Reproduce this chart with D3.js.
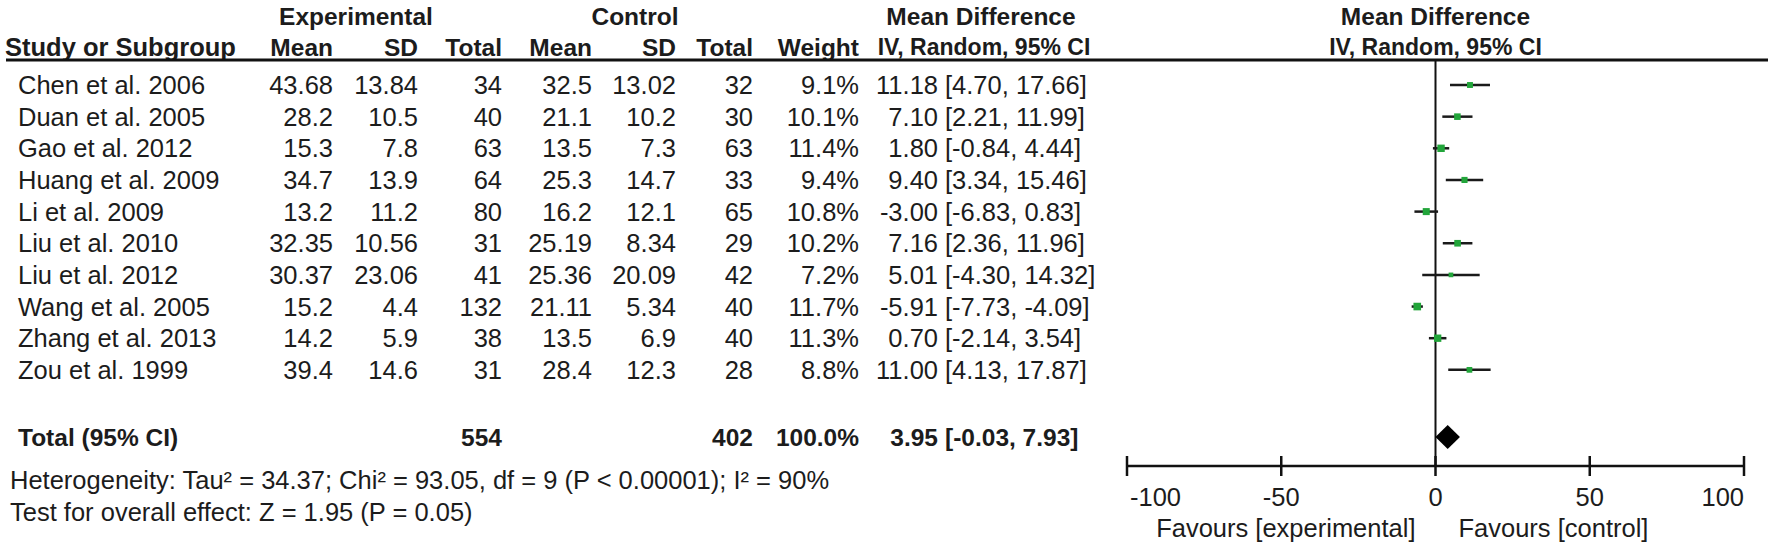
<!DOCTYPE html>
<html>
<head>
<meta charset="utf-8">
<script src="https://cdn.jsdelivr.net/npm/d3@7"></script>
<style>
  html, body { margin: 0; padding: 0; background: #fff; }
  svg { display: block; }
  text { font-family: "Liberation Sans", Arial, sans-serif; fill: #1c1c1c; }
</style>
</head>
<body>
<svg id="chart" width="1772" height="546"></svg>
<script>
// ---------- data ----------
const studies = ["Chen et al. 2006","Duan et al. 2005","Gao et al. 2012","Huang et al. 2009","Li et al. 2009",
                 "Liu et al. 2010","Liu et al. 2012","Wang et al. 2005","Zhang et al. 2013","Zou et al. 1999"];
const expMean  = ["43.68","28.2","15.3","34.7","13.2","32.35","30.37","15.2","14.2","39.4"];
const expSD    = ["13.84","10.5","7.8","13.9","11.2","10.56","23.06","4.4","5.9","14.6"];
const expN     = [34,40,63,64,80,31,41,132,38,31];
const ctrlMean = ["32.5","21.1","13.5","25.3","16.2","25.19","25.36","21.11","13.5","28.4"];
const ctrlSD   = ["13.02","10.2","7.3","14.7","12.1","8.34","20.09","5.34","6.9","12.3"];
const ctrlN    = [32,30,63,33,65,29,42,40,40,28];
const weights  = [9.1,10.1,11.4,9.4,10.8,10.2,7.2,11.7,11.3,8.8];
const md       = [11.18,7.10,1.80,9.40,-3.00,7.16,5.01,-5.91,0.70,11.00];
const ciLow    = [4.70,2.21,-0.84,3.34,-6.83,2.36,-4.30,-7.73,-2.14,4.13];
const ciHigh   = [17.66,11.99,4.44,15.46,0.83,11.96,14.32,-4.09,3.54,17.87];
const totalExpN = 554, totalCtrlN = 402, totalWeight = 100.0;
const totalMD = 3.95, totalLow = -0.03, totalHigh = 7.93;
const axisTicks = [-100,-50,0,50,100];
const heterogeneityText = "Heterogeneity: Tau² = 34.37; Chi² = 93.05, df = 9 (P < 0.00001); I² = 90%";
const overallText = "Test for overall effect: Z = 1.95 (P = 0.05)";
const favLeft = "Favours [experimental]", favRight = "Favours [control]";

// ---------- layout ----------
const svg = d3.select("#chart");
const FS = 25.5, FSB = 24.5;
const col = { name: 18, eMean: 333, eSD: 418, eN: 502, cMean: 592, cSD: 676, cN: 753, w: 859, est: 938, ci: 945 };
const y = d3.scalePoint().domain(d3.range(studies.length)).range([85, 85 + 9 * 31.65]);
const yTotal = 437, yHet = 480, yTest = 512;
const x = d3.scaleLinear().domain([-100, 100]).range([1127, 1744]);
const axisY = 466;
const f2 = v => (+v).toFixed(2);

function txt(xp, yp, s, anchor, bold) {
  return svg.append("text").attr("x", xp).attr("y", yp).attr("dy", "0.36em")
    .attr("text-anchor", anchor || "start").style("font-size", (bold ? FSB : FS) + "px")
    .style("font-weight", bold ? "bold" : "normal").text(s);
}

// headers
txt(356, 16, "Experimental", "middle", true);
txt(635, 16, "Control", "middle", true);
txt(981, 16, "Mean Difference", "middle", true);
txt(x(0), 16, "Mean Difference", "middle", true);
txt(5, 47, "Study or Subgroup", "start", true).style("font-size", "25.5px");
txt(col.eMean, 47, "Mean", "end", true);
txt(col.eSD, 47, "SD", "end", true);
txt(col.eN, 47, "Total", "end", true);
txt(col.cMean, 47, "Mean", "end", true);
txt(col.cSD, 47, "SD", "end", true);
txt(col.cN, 47, "Total", "end", true);
txt(col.w, 47, "Weight", "end", true);
txt(984, 47, "IV, Random, 95% CI", "middle", true).style("font-size", "23px");
txt(x(0), 47, "IV, Random, 95% CI", "middle", true).style("font-size", "23px");
svg.append("line").attr("x1", 6).attr("x2", 1768).attr("y1", 60).attr("y2", 60)
  .attr("stroke", "#111").attr("stroke-width", 3);

// rows
studies.forEach((s, i) => {
  const yy = y(i);
  txt(col.name, yy, s);
  txt(col.eMean, yy, expMean[i], "end");
  txt(col.eSD, yy, expSD[i], "end");
  txt(col.eN, yy, expN[i], "end");
  txt(col.cMean, yy, ctrlMean[i], "end");
  txt(col.cSD, yy, ctrlSD[i], "end");
  txt(col.cN, yy, ctrlN[i], "end");
  txt(col.w, yy, weights[i].toFixed(1) + "%", "end");
  txt(col.est, yy, f2(md[i]), "end");
  txt(col.ci, yy, "[" + f2(ciLow[i]) + ", " + f2(ciHigh[i]) + "]");
});

// total row
txt(col.name, yTotal, "Total (95% CI)", "start", true);
txt(col.eN, yTotal, totalExpN, "end", true);
txt(col.cN, yTotal, totalCtrlN, "end", true);
txt(col.w, yTotal, totalWeight.toFixed(1) + "%", "end", true);
txt(col.est, yTotal, f2(totalMD), "end", true);
txt(col.ci, yTotal, "[" + f2(totalLow) + ", " + f2(totalHigh) + "]", "start", true);
txt(col.name - 8, yHet, heterogeneityText);
txt(col.name - 8, yTest, overallText);

// forest plot
svg.append("line").attr("x1", x(0)).attr("x2", x(0)).attr("y1", 61).attr("y2", axisY)
  .attr("stroke", "#111").attr("stroke-width", 2);

const g = svg.append("g");
studies.forEach((s, i) => {
  const yy = y(i);
  g.append("line").attr("x1", x(ciLow[i])).attr("x2", x(ciHigh[i])).attr("y1", yy).attr("y2", yy)
    .attr("stroke", "#1a1a1a").attr("stroke-width", 2.5);
  const side = weights[i] * 0.65;
  g.append("rect").attr("x", x(md[i]) - side / 2).attr("y", yy - side / 2)
    .attr("width", side).attr("height", side).attr("fill", "#22a53a");
});

// diamond
const dh = 12;
svg.append("path")
  .attr("d", `M${x(totalLow)},${yTotal} L${x(totalMD)},${yTotal - dh} L${x(totalHigh)},${yTotal} L${x(totalMD)},${yTotal + dh} Z`)
  .attr("fill", "#000");

// axis
const axis = svg.append("g").attr("transform", `translate(0,${axisY})`);
axis.append("line").attr("x1", x(-100)).attr("x2", x(100)).attr("stroke", "#111").attr("stroke-width", 2.5);
axis.selectAll("line.tick").data(axisTicks).enter().append("line")
  .attr("class", "tick").attr("x1", d => x(d)).attr("x2", d => x(d)).attr("y1", -10).attr("y2", 10)
  .attr("stroke", "#111").attr("stroke-width", 2.5);
axisTicks.forEach((t, i) => {
  const anchor = i === 0 ? "start" : (i === axisTicks.length - 1 ? "end" : "middle");
  txt(x(t) + (i === 0 ? 3 : 0), axisY + 31, String(t), anchor);
});

txt(x(0) - 20, 528, favLeft, "end");
txt(x(0) + 23, 528, favRight, "start");
</script>
</body>
</html>
